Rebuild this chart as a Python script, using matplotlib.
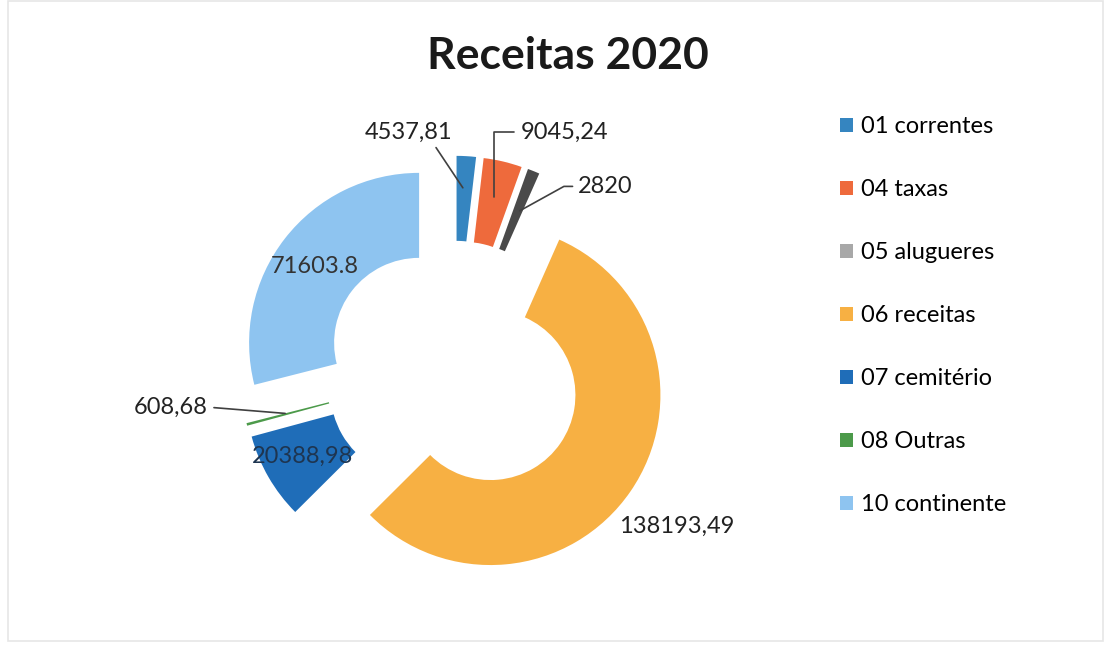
import numpy as np
import matplotlib.pyplot as plt
from matplotlib.patches import Patch, Rectangle

# dados
categorias = ["01 correntes", "04 taxas", "05 alugueres", "06 receitas",
              "07 cemitério", "08 Outras", "10 continente"]
valores = [4537.81, 9045.24, 2820, 138193.49, 20388.98, 608.68, 71603.8]
rotulos = ["4537,81", "9045,24", "2820", "138193,49", "20388,98", "608,68", "71603.8"]

cores_fatia = ["#3585C0", "#EE6A3C", "#4A4A4A", "#F7B043", "#1F6DB8", "#4C9A4A", "#8EC4F0"]
cores_legenda = ["#3585C0", "#EE6A3C", "#A8A8A8", "#F7B043", "#1F6DB8", "#4C9A4A", "#8EC4F0"]

plt.rcParams['font.family'] = ['Lato', 'DejaVu Sans']

fig = plt.figure(figsize=(11.06, 6.46), dpi=100)
fig.patches.append(Rectangle((0.007, 0.008), 0.99, 0.99, transform=fig.transFigure,
                             fill=False, edgecolor="#E6E6E6", linewidth=1.2))

# eixo quadrado centrado no donut (~454, 370 px), raio ~170 px
S = 544
ax = fig.add_axes([(454 - S / 2) / 1106, (646 - 370 - S / 2) / 646, S / 1106, S / 646])

explode = [0.26] * len(valores)
wedges, _ = ax.pie(valores, colors=cores_fatia, startangle=90, counterclock=False,
                   explode=explode, radius=1.0,
                   wedgeprops=dict(width=0.5, edgecolor="none"))
# pie() mexe nos limites, refazer depois
ax.set_xlim(-1.6, 1.6)
ax.set_ylim(-1.6, 1.6)
ax.axis("off")


def ponto(i, rr=0.8):
    w = wedges[i]
    th = np.deg2rad((w.theta1 + w.theta2) / 2)
    d = 0.26 + rr
    return d * np.cos(th), d * np.sin(th)


fs = 17
linha = dict(arrowstyle="-", color="#404040", lw=1.2)

# rotulos com linha de chamada
ax.annotate(rotulos[0], xy=ponto(0), xytext=(-0.27, 1.40), ha="center", va="center",
            fontsize=fs, color="#222222", annotation_clip=False,
            arrowprops=dict(linha, relpos=(0.78, 0.0)))
ax.annotate(rotulos[1], xy=ponto(1, 0.77), xytext=(0.39, 1.40), ha="left", va="center",
            fontsize=fs, color="#222222", annotation_clip=False,
            arrowprops=dict(linha, connectionstyle="angle,angleA=180,angleB=90,rad=0",
                            relpos=(-0.04, 0.5)))
ax.annotate(rotulos[2], xy=ponto(2, 0.74), xytext=(0.73, 1.08), ha="left", va="center",
            fontsize=fs, color="#222222", annotation_clip=False,
            arrowprops=dict(linha, connectionstyle="arc,angleA=180,armA=12,angleB=0,armB=0,rad=0",
                            relpos=(-0.04, 0.5)))
ax.annotate(rotulos[5], xy=ponto(5, 0.75), xytext=(-1.45, -0.22), ha="right", va="center",
            fontsize=fs, color="#222222", annotation_clip=False,
            arrowprops=dict(linha, relpos=(1.05, 0.5)))

# rotulos dentro / fora sem linha
ax.text(-0.82, 0.61, rotulos[6], ha="center", va="center", fontsize=fs, color="#333333")
ax.text(-0.89, -0.51, rotulos[4], ha="center", va="center", fontsize=fs, color="#1E3550")
ax.text(1.31, -0.92, rotulos[3], ha="center", va="center", fontsize=fs, color="#222222")

fig.text(0.513, 0.913, "Receitas 2020", ha="center", va="center",
         fontsize=32, fontweight="bold", color="#1A1A1A")

handles = [Patch(facecolor=c, edgecolor="none") for c in cores_legenda]
fig.legend(handles, categorias, loc="upper left", bbox_to_anchor=(0.751, 0.835),
           frameon=False, fontsize=fs, handlelength=0.55, handleheight=0.55,
           handletextpad=0.35, labelspacing=1.78, borderaxespad=0)

fig.savefig("out.png", dpi=100, facecolor="white")
